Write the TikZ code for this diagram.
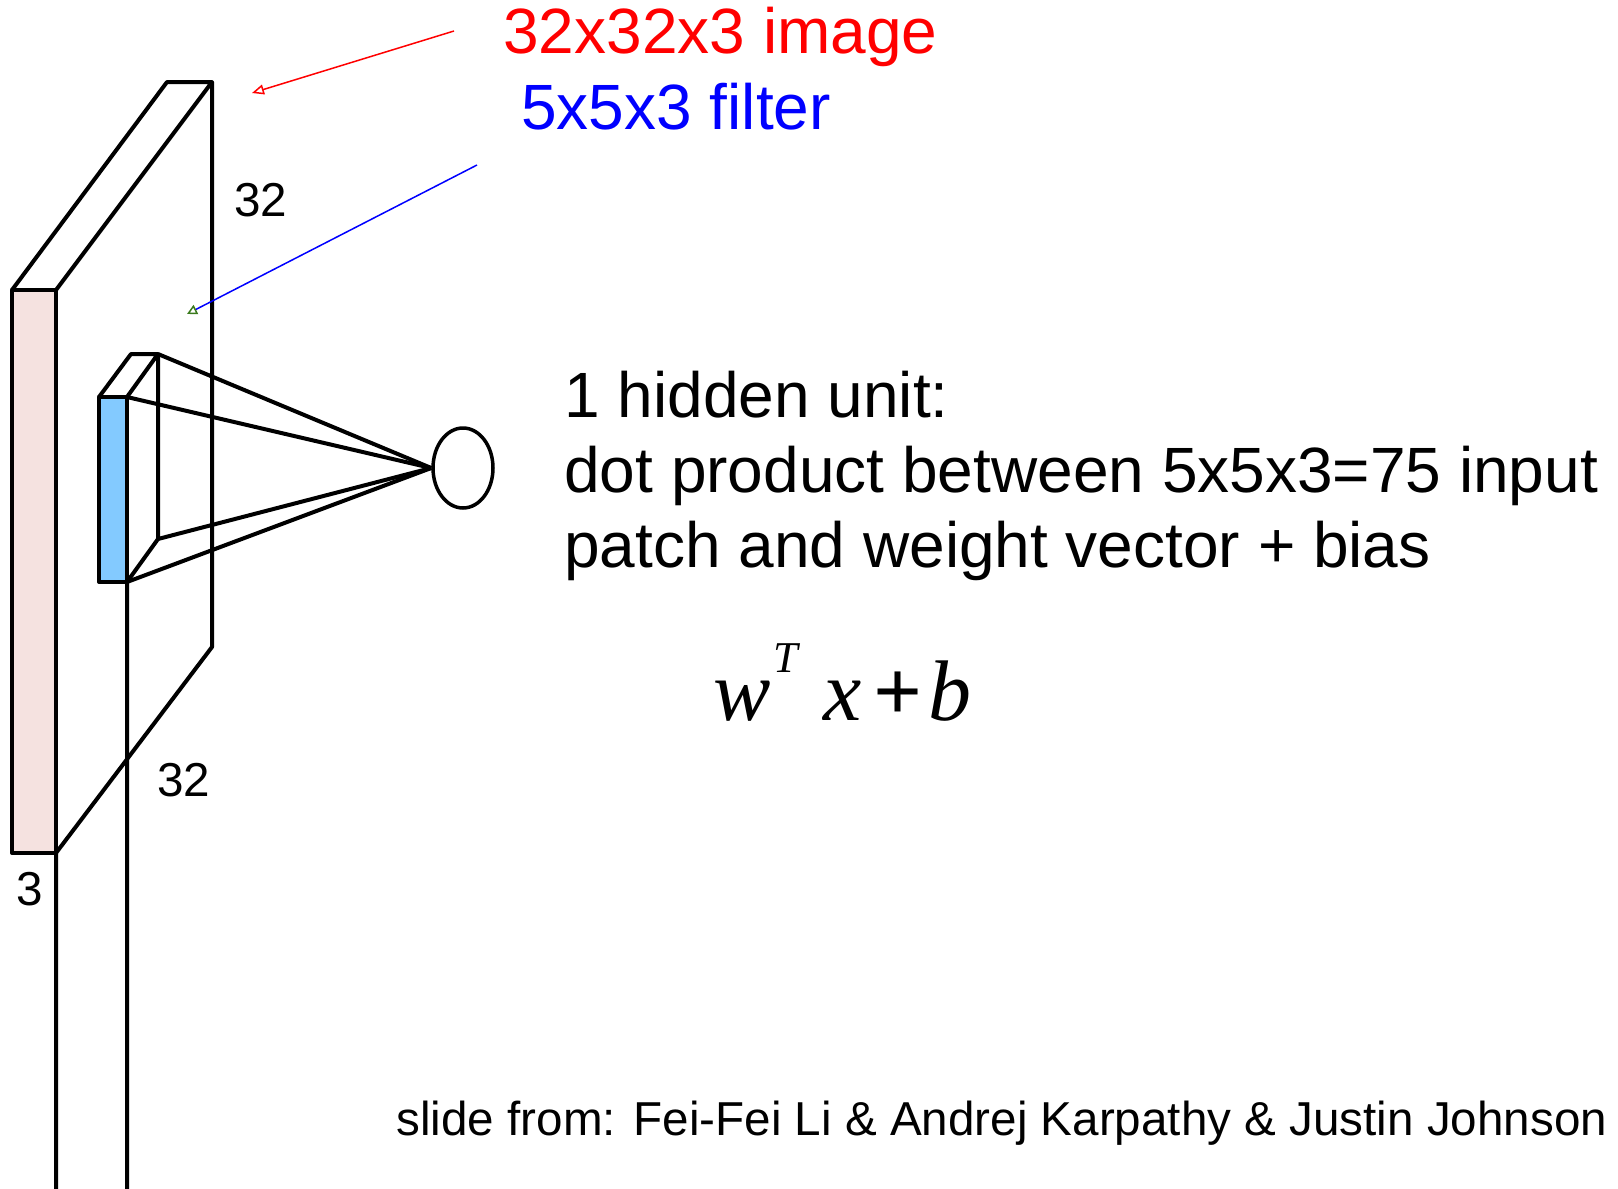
\documentclass[tikz,border=0pt]{standalone}
\usepackage{amsmath,amssymb}
\usepackage{fontspec}
\setmainfont{Liberation Sans}
\newfontfamily\formulafont{Liberation Serif}
\usetikzlibrary{arrows.meta,shapes.geometric}
\definecolor{pinkface}{HTML}{F5E2E0}
\definecolor{bluefilter}{HTML}{83CAFF}
\definecolor{tipgreen}{HTML}{3A7A1C}

\begin{document}
\begin{tikzpicture}[x=0.5pt,y=-0.5pt,
  edge/.style={line width=2pt,line join=round},
  big/.style={font=\fontsize{32}{37.5}\selectfont,inner sep=0pt,anchor=base west},
  small/.style={font=\fontsize{23.8}{28}\selectfont,inner sep=0pt,anchor=base west}]
  \useasboundingbox (0,0) rectangle (1618,1189);
  % input volume
  \draw[edge,fill=pinkface] (12,290) rectangle (56,853);
  \draw[edge] (12,290) -- (167,82) -- (212,82) -- (56,290);
  \draw[edge] (212,82) -- (212,647) -- (56,853) -- (56,1189);
  % filter
  \coordinate (fftl) at (99,397);
  \coordinate (fftr) at (127,397);
  \coordinate (ffbr) at (127,582);
  \coordinate (fbtl) at (131,354);
  \coordinate (fbtr) at (158,354);
  \coordinate (fbbr) at (158,539);
  \draw[edge,fill=bluefilter] (fftl) rectangle (ffbr);
  \draw[edge] (fftl) -- (fbtl) -- (fbtr) -- (fftr);
  \draw[edge] (fbtr) -- (fbbr) -- (ffbr) -- (127,1189);
  % hidden unit
  \node[ellipse,draw,line width=1.75pt,minimum width=30pt,minimum height=40pt,inner sep=0pt] (unit) at (463,468) {};
  \foreach \c in {fbtr,fftr,fbbr,ffbr}
    \draw[edge] (\c) -- (unit.west);
  % labels
  \node[big,red] (imglabel) at (503,53) {32x32x3 image};
  \node[big,blue] (filterlabel) at (521,129) {5x5x3 filter};
  \coordinate (imgfrom) at (454,31);
  \coordinate (imgto) at (252,93);
  \coordinate (filtfrom) at (477,165);
  \coordinate (filtto) at (187,314);
  \draw[red,line width=0.75pt,-{Triangle[open,length=6pt,width=5pt]}] (imgfrom) -- (imgto);
  \draw[blue,line width=0.75pt,-{Triangle[open,length=5pt,width=5pt,color=tipgreen]}] (filtfrom) -- (filtto);
  \node[small] (sidelabel) at (234,216) {32};
  \node[small] (bottomlabel) at (157,796) {32};
  \node[small] (depthlabel) at (16,905) {3};
  \node[big,align=left] (unittext) at (564,567) {1 hidden unit:\\dot product between 5x5x3=75 input\\patch and weight vector + bias};
  \node[inner sep=0pt,anchor=base west,font=\formulafont\fontsize{43}{50}\selectfont\itshape] (formula) at (713,720)
    {w\hspace{1.5pt}\raisebox{24pt}{\fontsize{22}{26}\selectfont T}\hspace{12.5pt}x\hspace{6pt}{\upshape\bfseries +}\hspace{3pt}b};
  \node[small] (credit) at (396,1135) {slide from: Fei-Fei Li \& Andrej Karpathy \& Justin Johnson};
\end{tikzpicture}
\end{document}
